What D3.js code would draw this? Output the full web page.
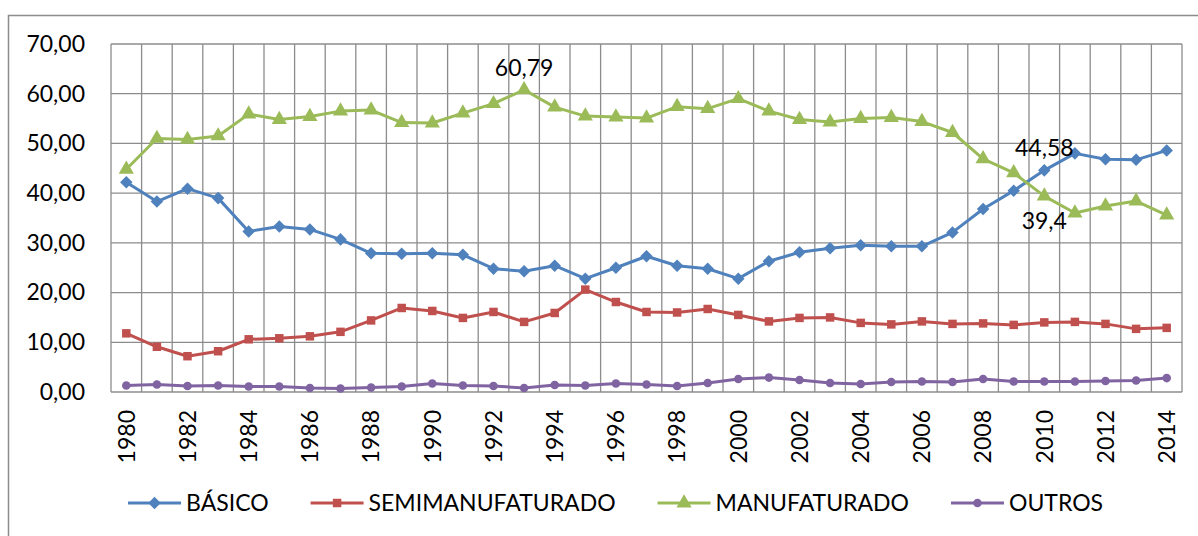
<!DOCTYPE html>
<html>
<head>
<meta charset="utf-8">
<script src="https://cdn.jsdelivr.net/npm/d3@7"></script>
<style>
  body { margin: 0; background: #fff; }
  svg text { font-family: Lato, "Open Sans", sans-serif; fill: #000; }
</style>
</head>
<body>
<div id="chart"></div>
<script>
// data
const years = d3.range(1980, 2015)
const basico = [42.2, 38.3, 40.9, 39.0, 32.3, 33.3, 32.7, 30.7, 27.9, 27.8, 27.9, 27.6, 24.8, 24.3, 25.4, 22.8, 25.0, 27.3, 25.4, 24.8, 22.8, 26.3, 28.1, 28.9, 29.5, 29.3, 29.3, 32.1, 36.8, 40.5, 44.58, 48.0, 46.8, 46.7, 48.6]
const semimanufaturado = [11.8, 9.1, 7.2, 8.2, 10.6, 10.8, 11.2, 12.1, 14.4, 16.9, 16.3, 14.9, 16.1, 14.1, 15.9, 20.6, 18.1, 16.1, 16.0, 16.7, 15.5, 14.2, 14.9, 15.0, 13.9, 13.6, 14.2, 13.7, 13.8, 13.5, 14.0, 14.1, 13.7, 12.7, 12.9]
const manufaturado = [44.8, 51.0, 50.8, 51.5, 55.9, 54.8, 55.4, 56.5, 56.7, 54.2, 54.1, 56.1, 58.0, 60.79, 57.3, 55.5, 55.3, 55.1, 57.4, 57.0, 59.0, 56.5, 54.8, 54.3, 55.0, 55.2, 54.4, 52.2, 46.9, 44.1, 39.4, 36.0, 37.4, 38.4, 35.6]
const outros = [1.3, 1.5, 1.2, 1.3, 1.1, 1.1, 0.8, 0.7, 0.9, 1.1, 1.7, 1.3, 1.2, 0.8, 1.4, 1.3, 1.7, 1.5, 1.2, 1.8, 2.6, 2.9, 2.4, 1.8, 1.6, 2.0, 2.1, 2.0, 2.6, 2.1, 2.1, 2.1, 2.2, 2.3, 2.8]
const seriesNames = ["BÁSICO", "SEMIMANUFATURADO", "MANUFATURADO", "OUTROS"]
const yTicks = [0, 10, 20, 30, 40, 50, 60, 70]
const xTickYears = years.filter(d => d % 2 === 0)

// data labels shown on the chart: [series index, year, position]
const dataLabels = [[2, 1993, "above"], [0, 2010, "above"], [2, 2010, "below"]]

const width = 1198, height = 536
const colours = ["#4F81BD", "#C0504D", "#9BBB59", "#8064A2"]
const symbols = [d3.symbolDiamond2 || d3.symbolDiamond, d3.symbolSquare, d3.symbolTriangle, d3.symbolCircle]
const symbolSizes = [100, 72, 100, 58]
const allSeries = [basico, semimanufaturado, manufaturado, outros]

let svg = d3.select("#chart")
    .append("svg")
        .attr("width", width)
        .attr("height", height)

// chart area border
svg.append("rect")
    .attr("x", 8.5).attr("y", 15.5)
    .attr("width", 1300).attr("height", 600)
    .attr("fill", "none")
    .attr("stroke", "#8c8c8c")
    .attr("stroke-width", 1.5)

let x = d3.scaleBand()
    .domain(years)
    .range([111, 1182])

let y = d3.scaleLinear()
    .domain([0, 70])
    .range([392, 44])

let cx = d => x(d) + x.bandwidth() / 2

// grid
let grid = svg.append("g").attr("stroke", "#8c8c8c").attr("stroke-width", 1.3)
grid.selectAll("line.h")
    .data(yTicks)
    .join("line")
    .attr("x1", x.range()[0]).attr("x2", x.range()[1])
    .attr("y1", d => y(d)).attr("y2", d => y(d))
grid.selectAll("line.v")
    .data(years.map(d => x(d)).concat([x.range()[1]]))
    .join("line")
    .attr("class", "v")
    .attr("x1", d => d).attr("x2", d => d)
    .attr("y1", y(70)).attr("y2", y(0))

// y axis
let yAxis = svg.append("g")
    .attr("transform", `translate(${x.range()[0]},0)`)
    .call(d3.axisLeft(y)
        .tickValues(yTicks)
        .tickSize(0)
        .tickPadding(26)
        .tickFormat(d => d3.format(".2f")(d).replace(".", ",")))
yAxis.select(".domain").remove()
yAxis.selectAll("text")
    .style("font-size", "23px")
    .attr("font-family", null)

// x axis labels
let xAxis = svg.append("g")
    .attr("transform", `translate(0,${y(0)})`)
    .call(d3.axisBottom(x).tickValues(xTickYears).tickSize(0).tickFormat(d3.format("d")))
xAxis.select(".domain").remove()
xAxis.selectAll("text")
    .attr("y", 0)
    .attr("transform", "translate(0,18) rotate(-90)")
    .attr("x", 0)
    .attr("dy", "0.36em")
    .style("text-anchor", "end")
    .style("font-size", "23px")
    .attr("font-family", null)

// lines
let line = d3.line()
    .x((d, i) => cx(years[i]))
    .y(d => y(d))

allSeries.forEach((series, s) => {
    svg.append("path")
        .datum(series)
        .attr("d", line)
        .attr("fill", "none")
        .attr("stroke", colours[s])
        .attr("stroke-width", 3)
        .attr("stroke-linejoin", "round")

    svg.append("g")
        .selectAll("path")
        .data(series)
        .join("path")
        .attr("d", d3.symbol().type(symbols[s]).size(symbolSizes[s]))
        .attr("transform", (d, i) => `translate(${cx(years[i])},${y(d)})`)
        .attr("fill", colours[s])
})

// data labels
svg.append("g")
    .selectAll("text")
    .data(dataLabels)
    .join("text")
    .attr("x", d => cx(d[1]))
    .attr("y", d => y(allSeries[d[0]][years.indexOf(d[1])]) + (d[2] === "above" ? -14 : 33))
    .attr("text-anchor", "middle")
    .style("font-size", "23px")
    .text(d => String(allSeries[d[0]][years.indexOf(d[1])]).replace(".", ","))

// legend
let legend = svg.append("g").attr("transform", "translate(128,503)")
let lx = 0
seriesNames.forEach((name, s) => {
    let item = legend.append("g").attr("transform", `translate(${lx},0)`)
    item.append("line")
        .attr("x1", 0).attr("x2", 53)
        .attr("stroke", colours[s])
        .attr("stroke-width", 3)
    item.append("path")
        .attr("d", d3.symbol().type(symbols[s]).size(symbolSizes[s]))
        .attr("transform", "translate(26.5,0)")
        .attr("fill", colours[s])
    let t = item.append("text")
        .attr("x", 58)
        .attr("dy", "0.36em")
        .style("font-size", "23px")
        .text(name)
    lx += 58 + t.node().getComputedTextLength() + 42
})
</script>
</body>
</html>
